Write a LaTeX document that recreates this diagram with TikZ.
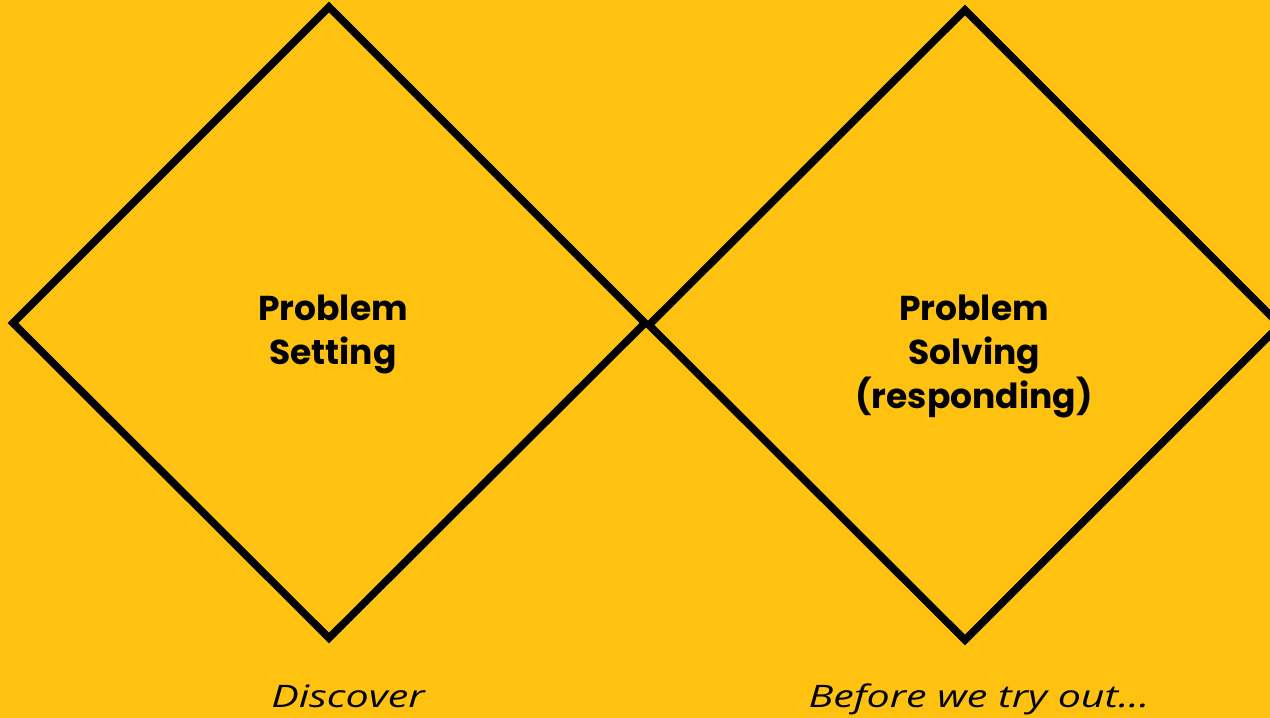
\documentclass[tikz,border=0pt]{standalone}
\usepackage{fontspec}
\setmainfont{Poppins}
\newfontfamily\capfont{Open Sans}[FakeStretch=1.33]
\definecolor{bgyellow}{HTML}{FFC211}
\begin{document}
\begin{tikzpicture}[x=1pt,y=-1pt,
  diam/.style={draw=black,line width=7.5pt,line join=miter},
  title/.style={font=\fontsize{34.5}{44}\selectfont\bfseries,align=center,text=black},
  caption/.style={font=\capfont\fontsize{31}{37}\selectfont\itshape,text=black,anchor=base}]
\useasboundingbox (0,0) rectangle (1270,718);
\fill[bgyellow] (0,0) rectangle (1270,718);
\clip (0,0) rectangle (1270,718);
\coordinate (lt) at (329,7);
\coordinate (ll) at (13,323);
\coordinate (lb) at (329,638);
\coordinate (lr) at (645,323);
\coordinate (rt) at (965,10);
\coordinate (rl) at (649,325);
\coordinate (rb) at (965,640);
\coordinate (rr) at (1280,325);
\draw[diam] (lt) -- (ll) -- (lb) -- (lr) -- cycle;
\draw[diam] (rt) -- (rl) -- (rb) -- (rr) -- cycle;
\node[title] (ps) at (333,334) {Problem\\Setting};
\node[title] (pv) at (974,356) {Problem\\Solving\\(responding)};
\node[caption] (d) at (348,707) {Discover};
\node[caption] (b) at (979,707) {Before we try out...};
\end{tikzpicture}
\end{document}
